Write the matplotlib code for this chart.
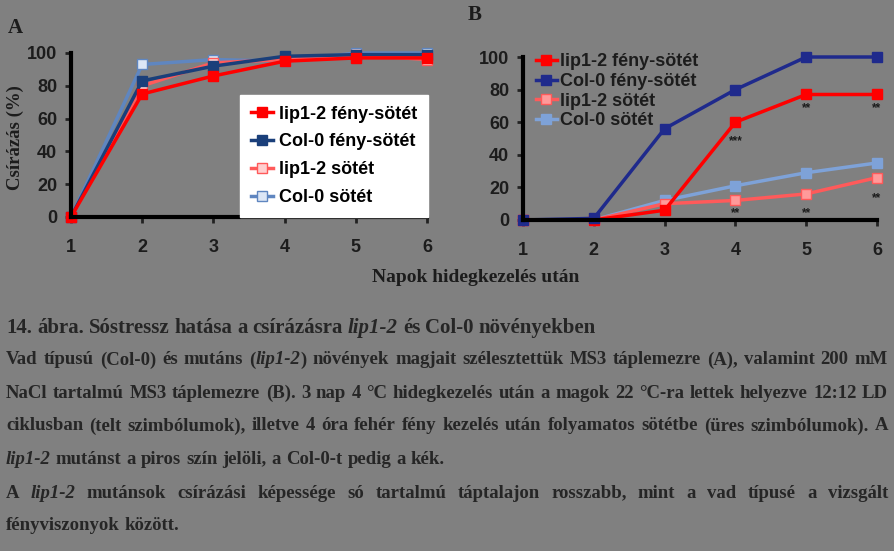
import matplotlib.pyplot as plt

plt.rcParams['font.family'] = ['Liberation Sans', 'DejaVu Sans']

days = [1, 2, 3, 4, 5, 6]

# panel A (MS3)
a_lip_fs = [0, 75, 86, 95, 97, 97]
a_col_fs = [0, 83, 92, 98, 99, 99]
a_lip_s = [0, 80, 94, 96, 99, 96]
a_col_s = [0, 93, 96, 95, 100, 100]

# panel B (200 mM NaCl)
b_lip_fs = [0, 0, 6, 60, 77, 77]
b_col_fs = [0, 1, 56, 80, 100, 100]
b_lip_s = [0, 0, 10, 12, 16, 26]
b_col_s = [0, 0, 12, 21, 29, 35]

labels = ['lip1-2 fény-sötét', 'Col-0 fény-sötét', 'lip1-2 sötét', 'Col-0 sötét']

# significance marks in B: (day, y, text)
stars_x = [4, 5, 6, 4, 5, 6]
stars_y = [52, 72, 72, 8, 8, 17]
stars_t = ['***', '**', '**', '**', '**', '**']

bg = '#808080'
dark = '#1c1c1c'
red = '#ff0000'
pink = '#ff5a5a'
navy_a = '#1a3f7a'
light_a = '#5f86c0'
navy_b = '#1f2a8c'
light_b = '#7ea2d8'

fig = plt.figure(figsize=(8.94, 5.51), dpi=100, facecolor=bg)
W, H = 894, 551


def px(x0, y0, x1, y1):
    return [x0 / W, 1 - y1 / H, (x1 - x0) / W, (y1 - y0) / H]


def style(ax):
    ax.set_facecolor(bg)
    ax.set_xlim(1, 6)
    ax.set_ylim(0, 100)
    for s in ['top', 'right']:
        ax.spines[s].set_visible(False)
    for s in ['left', 'bottom']:
        ax.spines[s].set_linewidth(3)
        ax.spines[s].set_color('black')
    ax.set_xticks(days)
    ax.set_yticks([0, 20, 40, 60, 80, 100])
    ax.tick_params(width=2, length=4, colors='#222222', labelcolor=dark,
                   labelsize=13)
    ax.tick_params(axis='x', pad=12)
    ax.tick_params(axis='y', pad=6)
    for t in ax.get_xticklabels() + ax.get_yticklabels():
        t.set_fontweight('bold')


axA = fig.add_axes(px(71, 53, 427, 217))
style(axA)
kw = dict(lw=2.5, ms=7, marker='s', clip_on=False)
axA.plot(days, a_col_s, color=light_a, mfc='#dce6f5', label=labels[3], **kw)
axA.plot(days, a_lip_s, color=pink, mfc='#ffd0d0', label=labels[2], **kw)
axA.plot(days, a_col_fs, color=navy_a, label=labels[1], **kw)
axA.plot(days, a_lip_fs, color=red, label=labels[0], **kw)
h, l = axA.get_legend_handles_labels()
legA = axA.legend(h[::-1], l[::-1], loc='lower right', bbox_to_anchor=(1.003, 0.0),
                  frameon=True, fancybox=False, framealpha=1, edgecolor='white',
                  prop=dict(size=13, weight='bold'), handlelength=1.2,
                  handletextpad=0.35, labelspacing=0.6, borderpad=0.6,
                  borderaxespad=0)
legA.set_zorder(5)
for t in legA.get_texts():
    t.set_color('black')

axB = fig.add_axes(px(523, 57, 877, 220))
style(axB)
axB.plot(days, b_col_s, color=light_b, mfc=light_b, label=labels[3], **kw)
axB.plot(days, b_lip_s, color=pink, mfc='#ff9a9a', label=labels[2], **kw)
axB.plot(days, b_lip_fs, color=red, label=labels[0], **kw)
axB.plot(days, b_col_fs, color=navy_b, label=labels[1], **kw)
h, l = axB.get_legend_handles_labels()
order = [2, 3, 1, 0]
legB = axB.legend([h[i] for i in order], [l[i] for i in order], loc='upper left',
                  bbox_to_anchor=(0.0, 1.1), frameon=False,
                  prop=dict(size=13, weight='bold'), handlelength=1.2,
                  handletextpad=0.15, labelspacing=0.15, borderpad=0.2)
for t in legB.get_texts():
    t.set_color(dark)
for x, y, t in zip(stars_x, stars_y, stars_t):
    axB.text(x, y, t, ha='center', va='top', fontsize=8.5, fontweight='bold', color=dark)

fig.text(8 / W, 1 - 28 / H, 'A', fontsize=15, fontweight='bold', family='Liberation Serif',
         color=dark, va='center')
fig.text(468 / W, 1 - 15 / H, 'B', fontsize=15, fontweight='bold', family='Liberation Serif',
         color=dark, va='center')
fig.text(15 / W, 1 - 138 / H, 'Csírázás (%)', rotation=90, fontsize=13.5, fontweight='bold',
         family='Liberation Serif', color=dark, ha='center', va='center')
fig.text(476 / W, 1 - 278 / H, 'Napok hidegkezelés után', fontsize=14, fontweight='bold',
         family='Liberation Serif', color=dark, ha='center', va='center')

# caption; words between underscores are italic, justified lines flagged True
cap_lines = [
    ('14. ábra.  Sóstressz hatása a csírázásra _lip1-2_  és Col-0 növényekben', False),
    ('Vad típusú (Col-0) és mutáns (_lip1-2_) növények magjait szélesztettük MS3 táplemezre (A), valamint 200 mM', True),
    ('NaCl tartalmú MS3 táplemezre (B). 3 nap 4 °C hidegkezelés után a magok 22 °C-ra lettek helyezve 12:12 LD', True),
    ('ciklusban (telt szimbólumok), illetve 4 óra fehér fény kezelés után folyamatos sötétbe (üres szimbólumok). A', True),
    ('_lip1-2_ mutánst a piros szín jelöli, a Col-0-t pedig a kék.', False),
    ('A _lip1-2_ mutánsok csírázási képessége só tartalmú táptalajon rosszabb, mint a vad típusé a vizsgált', True),
    ('fényviszonyok között.', False),
]
cap_size = [15, 13.5, 13.5, 13.5, 13.5, 13.5, 13.5]
cap_y = [328, 360, 393, 426, 459, 493, 526]
x_left, x_right = 6, 888

fig.canvas.draw()
r = fig.canvas.get_renderer()
for (line, just), yy, fs in zip(cap_lines, cap_y, cap_size):
    words = []
    for w in line.split():
        segs = w.split('_')
        pieces = []
        for k, s in enumerate(segs):
            if s:
                t = fig.text(0, 1 - yy / H, s, fontsize=fs, fontweight='bold',
                             family='Liberation Serif', color='#262626', va='center',
                             style='italic' if k % 2 else 'normal')
                pieces.append((t, t.get_window_extent(r).width))
        words.append(pieces)
    widths = [sum(p[1] for p in ps) for ps in words]
    if just and len(words) > 1:
        gap = (x_right - x_left - sum(widths)) / (len(words) - 1)
    else:
        gap = 5
    x = x_left
    for ps, w in zip(words, widths):
        xx = x
        for t, pw in ps:
            t.set_x(xx / W)
            xx += pw
        x += w + gap

fig.savefig('out.png', dpi=100, facecolor=bg)
